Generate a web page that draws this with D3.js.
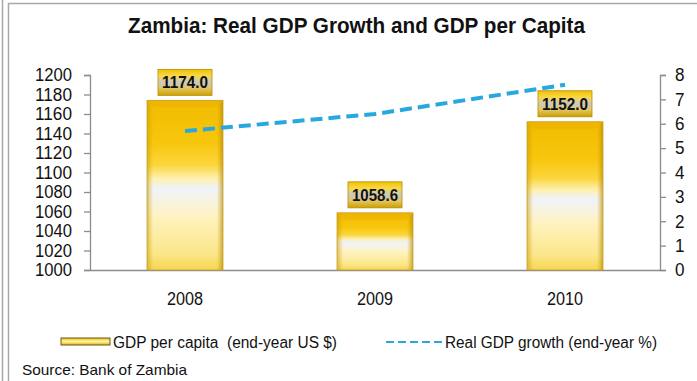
<!DOCTYPE html>
<html>
<head>
<meta charset="utf-8">
<script src="https://cdn.jsdelivr.net/npm/d3@7/dist/d3.min.js"></script>
<style>
  html, body { margin: 0; padding: 0; background: #fff; }
  svg { display: block; font-family: "Liberation Sans", Arial, sans-serif; }
</style>
</head>
<body>
<svg id="chart" width="697" height="381"></svg>
<script>
// Data
const years = ["2008", "2009", "2010"];
const gdpPerCapita = [1174.0, 1058.6, 1152.0];   // end-year US $
const gdpGrowth = [5.7, 6.4, 7.6];               // end-year %
const leftTicks = [1000, 1020, 1040, 1060, 1080, 1100, 1120, 1140, 1160, 1180, 1200];
const rightTicks = [0, 1, 2, 3, 4, 5, 6, 7, 8];

const svg = d3.select("#chart");
const W = 697, H = 381;
const plot = { left: 90, right: 660, top: 75, bottom: 270 };

// Squeeze a text element to a given width (narrow face look)
function fit(sel, width) {
  sel.attr("textLength", width).attr("lengthAdjust", "spacingAndGlyphs");
  return sel;
}

// Frame lines
const frame = svg.append("g").attr("stroke", "#a9a9a9").attr("stroke-width", 1.5).attr("fill", "none");
frame.append("line").attr("x1", 2.5).attr("x2", 2.5).attr("y1", 0).attr("y2", H);
frame.append("line").attr("x1", 8.5).attr("x2", 8.5).attr("y1", 3).attr("y2", H);
frame.append("line").attr("x1", 8).attr("x2", W).attr("y1", 3.5).attr("y2", 3.5);

// Gradients
const defs = svg.append("defs");
const barGrad = defs.append("linearGradient").attr("id", "barGrad")
  .attr("x1", 0).attr("y1", 0).attr("x2", 0).attr("y2", 1);
[[0, "#f2bc00"], [0.25, "#f7c60c"], [0.38, "#fbd53c"], [0.46, "#fef0b0"], [0.52, "#eef3fb"],
 [0.58, "#f6f3e6"], [0.7, "#fff2bc"], [0.9, "#fbe68a"], [1, "#f6d650"]]
  .forEach(([o, c]) => barGrad.append("stop").attr("offset", o).attr("stop-color", c));

const bevelL = defs.append("linearGradient").attr("id", "bevelL")
  .attr("x1", 0).attr("y1", 0).attr("x2", 1).attr("y2", 0);
bevelL.append("stop").attr("offset", 0).attr("stop-color", "#c99a00").attr("stop-opacity", 0.55);
bevelL.append("stop").attr("offset", 0.08).attr("stop-color", "#c99a00").attr("stop-opacity", 0);
bevelL.append("stop").attr("offset", 0.92).attr("stop-color", "#c99a00").attr("stop-opacity", 0);
bevelL.append("stop").attr("offset", 1).attr("stop-color", "#b08400").attr("stop-opacity", 0.65);

const labelGrad = defs.append("linearGradient").attr("id", "labelGrad")
  .attr("x1", 0).attr("y1", 0).attr("x2", 0).attr("y2", 1);
[[0, "#f2c200"], [0.25, "#f8d848"], [0.5, "#c9c9c4"], [0.72, "#e2c866"], [1, "#cf9f00"]]
  .forEach(([o, c]) => labelGrad.append("stop").attr("offset", o).attr("stop-color", c));

const legGrad = defs.append("linearGradient").attr("id", "legGrad")
  .attr("x1", 0).attr("y1", 0).attr("x2", 0).attr("y2", 1);
[[0, "#f2c200"], [0.5, "#fff2a8"], [1, "#e0b400"]]
  .forEach(([o, c]) => legGrad.append("stop").attr("offset", o).attr("stop-color", c));

// Title
fit(svg.append("text")
  .attr("x", 128).attr("y", 33)
  .attr("font-size", 22).attr("font-weight", "bold")
  .attr("fill", "#111")
  .text("Zambia: Real GDP Growth and GDP per Capita"), 457);

// Scales
const x = d3.scaleBand().domain(years).range([plot.left, plot.right]).paddingInner(0.6).paddingOuter(0.3);
const yL = d3.scaleLinear().domain([1000, 1200]).range([plot.bottom, plot.top]);
const yR = d3.scaleLinear().domain([0, 8]).range([plot.bottom, plot.top]);

// Axes
const axisColor = "#8c8c8c";
const gL = svg.append("g").attr("transform", `translate(${plot.left},0)`)
  .call(d3.axisLeft(yL).tickValues(leftTicks).tickFormat(d3.format("d")).tickSize(6).tickSizeOuter(6).tickPadding(12));
const gR = svg.append("g").attr("transform", `translate(${plot.right},0)`)
  .call(d3.axisRight(yR).tickValues(rightTicks).tickFormat(d3.format("d")).tickSize(6).tickSizeOuter(6).tickPadding(9));
[gL, gR].forEach(g => {
  g.selectAll("path, line").attr("stroke", axisColor).attr("stroke-width", 1.3);
  g.selectAll("text").attr("font-size", 18).attr("fill", "#111");
});
gL.selectAll("text").each(function () { fit(d3.select(this), 37); });
gR.selectAll("text").each(function () { fit(d3.select(this), 9.5); });

// X baseline
const gX = svg.append("g").attr("transform", `translate(0,${plot.bottom})`)
  .call(d3.axisBottom(x).tickSize(0).tickPadding(22));
gX.select(".domain").attr("stroke", axisColor).attr("stroke-width", 1.3);
gX.selectAll("text").attr("font-size", 18).attr("fill", "#111")
  .each(function () { fit(d3.select(this), 36); });

// Bars
const bars = svg.append("g");
years.forEach((yr, i) => {
  const bx = x(yr), bw = x.bandwidth(), by = yL(gdpPerCapita[i]), bh = plot.bottom - by;
  bars.append("rect").attr("x", bx).attr("y", by).attr("width", bw).attr("height", bh)
    .attr("fill", "url(#barGrad)");
  bars.append("rect").attr("x", bx).attr("y", by).attr("width", bw).attr("height", bh)
    .attr("fill", "url(#bevelL)");
  // top bevel
  bars.append("polygon")
    .attr("points", [[bx, by], [bx + bw, by], [bx + bw - 7, by + 7], [bx + 7, by + 7]].map(p => p.join(",")).join(" "))
    .attr("fill", "#eeb400").attr("opacity", 0.85);
  bars.append("rect").attr("x", bx).attr("y", by).attr("width", bw).attr("height", bh)
    .attr("fill", "none").attr("stroke", "#c8a030").attr("stroke-width", 0.8);
});

// Value labels above bars
const labels = svg.append("g");
years.forEach((yr, i) => {
  const cx = x(yr) + x.bandwidth() / 2;
  const top = yL(gdpPerCapita[i]);
  const bw = 54, bh = 26;
  labels.append("rect").attr("x", cx - bw / 2).attr("y", top - 5 - bh).attr("width", bw).attr("height", bh)
    .attr("fill", "url(#labelGrad)").attr("stroke", "#b48a00").attr("stroke-width", 0.8);
  const t = labels.append("text").attr("x", cx - 23).attr("y", top - 5 - bh / 2 + 6)
    .attr("font-size", 16).attr("font-weight", "bold")
    .attr("fill", "#111")
    .text(d3.format(".1f")(gdpPerCapita[i]));
  fit(t, 46);
});

// Growth line
const line = d3.line()
  .x((d, i) => x(years[i]) + x.bandwidth() / 2)
  .y(d => yR(d));
svg.append("path").datum(gdpGrowth)
  .attr("d", line)
  .attr("fill", "none")
  .attr("stroke", "#29a8e0")
  .attr("stroke-width", 4)
  .attr("stroke-dasharray", "12,6");

// Legend
const leg = svg.append("g");
leg.append("rect").attr("x", 61).attr("y", 338).attr("width", 49).attr("height", 7)
  .attr("fill", "url(#legGrad)").attr("stroke", "#6b5a20").attr("stroke-width", 1);
fit(leg.append("text").attr("x", 113).attr("y", 348).attr("font-size", 16).attr("fill", "#111")
  .attr("xml:space", "preserve")
  .text("GDP per capita  (end-year US $)"), 224);
leg.append("line").attr("x1", 386).attr("x2", 442).attr("y1", 342).attr("y2", 342)
  .attr("stroke", "#29a8e0").attr("stroke-width", 2).attr("stroke-dasharray", "8,4");
fit(leg.append("text").attr("x", 445).attr("y", 348).attr("font-size", 16).attr("fill", "#111")
  .text("Real GDP growth (end-year %)"), 212);

// Source
fit(svg.append("text").attr("x", 22).attr("y", 375).attr("font-size", 15).attr("fill", "#111")
  .text("Source: Bank of Zambia"), 165);
</script>
</body>
</html>
